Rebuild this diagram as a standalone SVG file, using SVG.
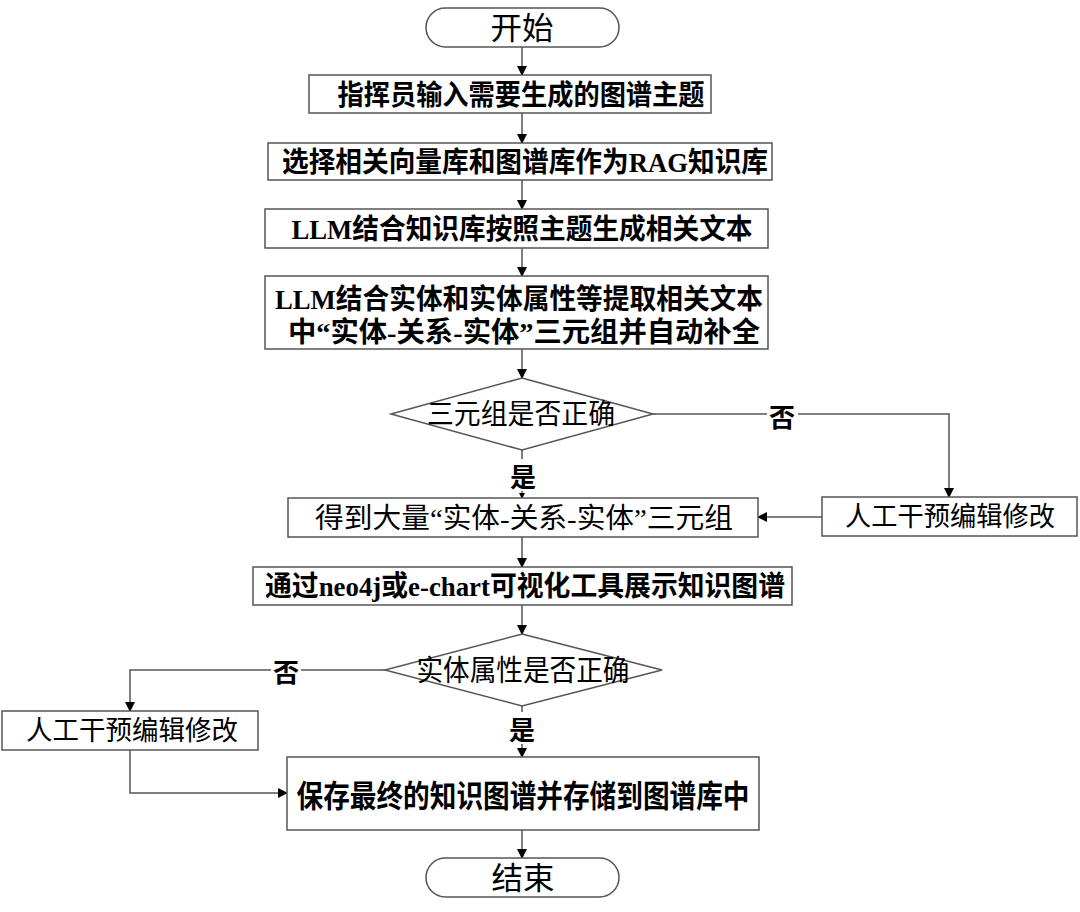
<svg xmlns="http://www.w3.org/2000/svg" width="1080" height="912" viewBox="0 0 1080 912">
<defs>
<style>
.box{fill:#fff;stroke:#555;stroke-width:1.5}
.t{font-family:"Liberation Serif","Noto Sans CJK SC",serif;fill:#000;text-anchor:middle;dominant-baseline:central}
.b{font-weight:bold}
.ln{fill:none;stroke:#555;stroke-width:1.5}
.lbl{font-family:"Noto Sans CJK SC",sans-serif;font-weight:bold;font-size:26px;fill:#000;text-anchor:middle;dominant-baseline:central}
</style>
<marker id="ah" markerWidth="10" markerHeight="10" refX="9" refY="5" orient="auto" markerUnits="userSpaceOnUse">
<path d="M0,0 L10,5 L0,10 Z" fill="#000"/>
</marker>
<marker id="ahs" markerWidth="6" markerHeight="6" refX="5" refY="3" orient="auto" markerUnits="userSpaceOnUse">
<path d="M0,0 L6,3 L0,6 Z" fill="#000"/>
</marker>
</defs>
<rect width="1080" height="912" fill="#fff"/>

<g id="connectors">
<line class="ln" x1="522" y1="47" x2="522" y2="75" marker-end="url(#ah)"/>
<line class="ln" x1="522" y1="113" x2="522" y2="143" marker-end="url(#ah)"/>
<line class="ln" x1="522" y1="180" x2="522" y2="209" marker-end="url(#ah)"/>
<line class="ln" x1="522" y1="248" x2="522" y2="276" marker-end="url(#ah)"/>
<line class="ln" x1="522" y1="349" x2="522" y2="378" marker-end="url(#ah)"/>
<line class="ln" x1="522" y1="450" x2="522" y2="459"/>
<line class="ln" x1="522" y1="491" x2="522" y2="498" marker-end="url(#ahs)"/>
<polyline class="ln" points="653,414 767,414"/>
<polyline class="ln" points="798,414 949,414 949,497" marker-end="url(#ah)"/>
<line class="ln" x1="822" y1="517" x2="758" y2="517" marker-end="url(#ah)"/>
<line class="ln" x1="522" y1="537" x2="522" y2="567" marker-end="url(#ah)"/>
<line class="ln" x1="522" y1="605" x2="522" y2="634" marker-end="url(#ah)"/>
<polyline class="ln" points="385,670 301,670"/>
<polyline class="ln" points="271,670 130,670 130,711" marker-end="url(#ah)"/>
<line class="ln" x1="522" y1="706" x2="522" y2="712"/>
<line class="ln" x1="522" y1="744" x2="522" y2="757" marker-end="url(#ah)"/>
<polyline class="ln" points="130,750 130,793 287,793" marker-end="url(#ah)"/>
<line class="ln" x1="522" y1="830" x2="522" y2="858" marker-end="url(#ah)"/>
<text class="lbl" x="782" y="415">否</text>
<text class="lbl" x="523" y="475">是</text>
<text class="lbl" x="286" y="670">否</text>
<text class="lbl" x="522" y="728">是</text>
</g>

<g id="start">
<rect class="box" x="426" y="8" width="193" height="39" rx="19.5" ry="19.5"/>
<text class="t" x="522" y="28" font-size="31" textLength="63" lengthAdjust="spacingAndGlyphs">开始</text>
</g>

<g id="n1">
<rect class="box" x="309" y="75" width="402" height="38"/>
<text class="t b" x="521" y="95" font-size="28" textLength="367" lengthAdjust="spacingAndGlyphs">指挥员输入需要生成的图谱主题</text>
</g>

<g id="n2">
<rect class="box" x="268" y="143" width="504" height="37"/>
<text class="t b" x="525" y="162" font-size="28" textLength="486" lengthAdjust="spacingAndGlyphs">选择相关向量库和图谱库作为RAG知识库</text>
</g>

<g id="n3">
<rect class="box" x="265" y="209" width="503" height="39"/>
<text class="t b" x="522" y="229" font-size="28" textLength="461" lengthAdjust="spacingAndGlyphs">LLM结合知识库按照主题生成相关文本</text>
</g>

<g id="n4">
<rect class="box" x="265" y="276" width="503" height="73"/>
<text class="t b" x="519" y="299" font-size="28" textLength="488" lengthAdjust="spacingAndGlyphs">LLM结合实体和实体属性等提取相关文本</text>
<text class="t b" x="524" y="332" font-size="28" textLength="472" lengthAdjust="spacingAndGlyphs">中“实体-关系-实体”三元组并自动补全</text>
</g>

<g id="d1">
<polygon class="box" points="522,378 653,414 522,450 391,414"/>
<text class="t" x="521" y="414" font-size="28" textLength="188" lengthAdjust="spacingAndGlyphs">三元组是否正确</text>
</g>

<g id="n5">
<rect class="box" x="288" y="498" width="470" height="39"/>
<text class="t" x="524" y="518" font-size="28" textLength="418" lengthAdjust="spacingAndGlyphs">得到大量“实体-关系-实体”三元组</text>
</g>

<g id="r1">
<rect class="box" x="822" y="497" width="255" height="39"/>
<text class="t" x="950" y="517" font-size="27" textLength="210" lengthAdjust="spacingAndGlyphs">人工干预编辑修改</text>
</g>

<g id="n6">
<rect class="box" x="253" y="567" width="539" height="38"/>
<text class="t b" x="525" y="586" font-size="28" textLength="520" lengthAdjust="spacingAndGlyphs">通过neo4j或e-chart可视化工具展示知识图谱</text>
</g>

<g id="d2">
<polygon class="box" points="522,634 662,670 522,706 385,670"/>
<text class="t" x="523" y="671" font-size="29" textLength="213" lengthAdjust="spacingAndGlyphs">实体属性是否正确</text>
</g>

<g id="l1">
<rect class="box" x="2" y="711" width="256" height="39"/>
<text class="t" x="132" y="731" font-size="27" textLength="212" lengthAdjust="spacingAndGlyphs">人工干预编辑修改</text>
</g>

<g id="n7">
<rect class="box" x="287" y="757" width="472" height="73"/>
<text class="t b" x="523" y="796" font-size="31" textLength="453" lengthAdjust="spacingAndGlyphs">保存最终的知识图谱并存储到图谱库中</text>
</g>

<g id="end">
<rect class="box" x="426" y="858" width="193" height="39" rx="19.5" ry="19.5"/>
<text class="t" x="523" y="878" font-size="31" textLength="63" lengthAdjust="spacingAndGlyphs">结束</text>
</g>
</svg>
